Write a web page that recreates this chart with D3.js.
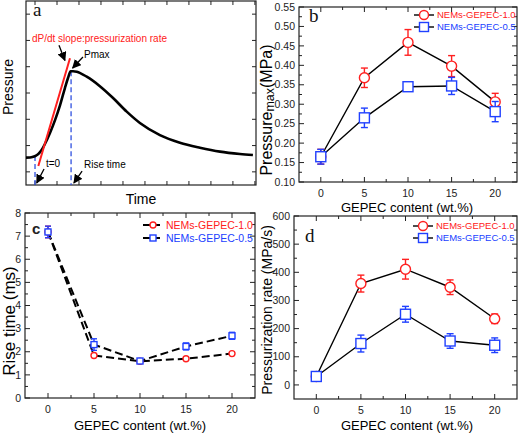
<!DOCTYPE html>
<html><head><meta charset="utf-8">
<script src="https://cdn.jsdelivr.net/npm/d3@7"></script>
<style>body{margin:0;background:#fff}svg{display:block}</style>
</head><body>
<script>
// ---------- data ----------
const gepec = [0, 5, 10, 15, 20];
const xTicks = [0, 5, 10, 15, 20];
const seriesNames = ["NEMs-GEPEC-1.0", "NEMs-GEPEC-0.5"];
// panel b: Pressure max (MPa)
const pmax10 = [0.165, 0.368, 0.459, 0.398, 0.306];
const pmax10Err = [0.019, 0.025, 0.033, 0.027, 0.022];
const pmax05 = [0.165, 0.265, 0.345, 0.347, 0.281];
const pmax05Err = [0.019, 0.025, 0.009, 0.022, 0.026];
const pmaxTicks = [0.10, 0.15, 0.20, 0.25, 0.30, 0.35, 0.40, 0.45, 0.50, 0.55];
// panel c: Rise time (ms)
const rise10 = [7.18, 1.84, 1.59, 1.70, 1.92];
const rise10Err = [0.25, 0.08, 0.08, 0.06, 0.06];
const rise05 = [7.18, 2.31, 1.60, 2.23, 2.69];
const rise05Err = [0.25, 0.25, 0.10, 0.15, 0.15];
const riseTicks = [0, 1, 2, 3, 4, 5, 6, 7, 8];
// panel d: Pressurization rate (MPa/s)
const rate10 = [30, 360, 411, 347, 235];
const rate10Err = [7, 30, 35, 26, 17];
const rate05 = [30, 147, 251, 156, 141];
const rate05Err = [7, 30, 28, 26, 26];
const rateTicks = [0, 100, 200, 300, 400, 500, 600];
// panel a: schematic pressure-time curve (arbitrary units)
const curveT = [-0.41, -0.23, -0.08, 0.045, 0.15, 0.30, 0.45, 0.68, 0.91, 1.14, 1.36, 1.50, 1.62, 1.73, 1.90, 2.35, 2.95, 3.55, 4.17, 4.77, 5.68, 6.59, 7.50, 8.41, 9.32, 9.91];
const curveP = [0.54, 0.546, 0.576, 0.62, 0.68, 0.83, 1.06, 1.48, 1.97, 2.54, 3.19, 3.57, 3.83, 3.83, 3.81, 3.62, 3.26, 2.81, 2.29, 1.86, 1.40, 1.11, 0.92, 0.77, 0.68, 0.64];
const slopeT = [0.15, 1.59];
const slopeP = [0.22, 4.32];
const t0 = 0, tRise = 1.64, pStart = 0.6, pPeak = 3.83;

const RED = "#ff2020", BLUE = "#2040ff";
const SANS = "'Liberation Sans', Arial, sans-serif";
const SERIF = "'Liberation Serif', 'Times New Roman', serif";

const svg = d3.select("body").append("svg").attr("width", 520).attr("height", 434)
  .style("font-family", SANS);
const defs = svg.append("defs");
defs.append("marker").attr("id", "arr").attr("viewBox", "0 0 10 10").attr("refX", 9).attr("refY", 5)
  .attr("markerWidth", 7).attr("markerHeight", 7).attr("orient", "auto-start-reverse")
  .append("path").attr("d", "M0,0L10,5L0,10z").attr("fill", "#000");

function frame(x, y, opt) {
  const g = svg.append("g");
  const [x0, x1] = x.range(), [y0, y1] = y.range();
  const L = opt.major || 5, m = opt.minor || 3;
  const mk = (vals, len, side) => {
    vals.forEach(v => {
      if (side === "b") g.append("line").attr("x1", x(v)).attr("x2", x(v)).attr("y1", y0).attr("y2", y0 - len);
      if (side === "t") g.append("line").attr("x1", x(v)).attr("x2", x(v)).attr("y1", y1).attr("y2", y1 + len);
      if (side === "l") g.append("line").attr("y1", y(v)).attr("y2", y(v)).attr("x1", x0).attr("x2", x0 + len);
      if (side === "r") g.append("line").attr("y1", y(v)).attr("y2", y(v)).attr("x1", x1).attr("x2", x1 - len);
    });
  };
  mk(opt.xMajor, L, "b"); mk(opt.xMinor, m, "b"); mk(opt.xMajor, L, "t"); mk(opt.xMinor, m, "t");
  mk(opt.yMajor, L, "l"); mk(opt.yMinor, m, "l"); mk(opt.yMajor, L, "r"); mk(opt.yMinor, m, "r");
  g.selectAll("line").attr("stroke", "#222").attr("stroke-width", 1);
  g.append("rect").attr("x", x0).attr("y", y1).attr("width", x1 - x0).attr("height", y0 - y1)
    .attr("fill", "none").attr("stroke", "#222").attr("stroke-width", 1.2);
  if (opt.xLabels) {
    g.selectAll(".xl").data(opt.xMajor).join("text").attr("x", d => x(d)).attr("y", y0 + 15)
      .attr("text-anchor", "middle").attr("font-size", 10.5).attr("fill", "#222").text(d => d);
  }
  if (opt.yLabels) {
    g.selectAll(".yl").data(opt.yMajor).join("text").attr("x", x0 - 4).attr("y", d => y(d) + 3.7)
      .attr("text-anchor", "end").attr("font-size", 10.5).attr("fill", "#222").text(d => opt.yFmt ? opt.yFmt(d) : d);
  }
  return g;
}

function series(x, y, xs, ys, dashed) {
  const line = d3.line().x((d, i) => x(xs[i])).y(d => y(d));
  svg.append("path").attr("d", line(ys)).attr("fill", "none").attr("stroke", "#000")
    .attr("stroke-width", dashed ? 2 : 1.4).attr("stroke-dasharray", dashed ? "8,4" : null);
}
function points(x, y, xs, ys, errs, color, shape, size) {
  const g = svg.append("g");
  const cap = Math.max(3, size * 0.7);
  ys.forEach((v, i) => {
    const cx = x(xs[i]);
    g.append("line").attr("x1", cx).attr("x2", cx).attr("y1", y(v - errs[i])).attr("y2", y(v + errs[i])).attr("stroke", color).attr("stroke-width", 1.4);
    [v - errs[i], v + errs[i]].forEach(e => g.append("line").attr("x1", cx - cap).attr("x2", cx + cap).attr("y1", y(e)).attr("y2", y(e)).attr("stroke", color).attr("stroke-width", 1.4));
    if (shape === "circle") g.append("circle").attr("cx", cx).attr("cy", y(v)).attr("r", size).attr("fill", "#fff").attr("stroke", color).attr("stroke-width", 1.4);
    else g.append("rect").attr("x", cx - size).attr("y", y(v) - size).attr("width", 2 * size).attr("height", 2 * size).attr("fill", "#fff").attr("stroke", color).attr("stroke-width", 1.4);
  });
}
function legend(x0, yRows, size, fs, dashed) {
  const g = svg.append("g");
  seriesNames.forEach((n, i) => {
    const yy = yRows[i], col = i === 0 ? RED : BLUE;
    g.append("line").attr("x1", x0).attr("x2", x0 + 20).attr("y1", yy).attr("y2", yy).attr("stroke", "#000")
      .attr("stroke-width", dashed ? 2 : 1.4).attr("stroke-dasharray", dashed ? "7,3" : null);
    if (i === 0) g.append("circle").attr("cx", x0 + 10).attr("cy", yy).attr("r", size).attr("fill", "#fff").attr("stroke", col).attr("stroke-width", 1.4);
    else g.append("rect").attr("x", x0 + 10 - size).attr("y", yy - size).attr("width", 2 * size).attr("height", 2 * size).attr("fill", "#fff").attr("stroke", col).attr("stroke-width", 1.4);
    g.append("text").attr("x", x0 + 23).attr("y", yy + fs * 0.36).attr("font-size", fs).attr("fill", col).text(n);
  });
}
const half = arr => arr.slice(0, -1).map((v, i) => (v + arr[i + 1]) / 2);
const serifLabel = (txt, x, y) => svg.append("text").attr("x", x).attr("y", y).style("font-family", SERIF).attr("font-size", 19).attr("fill", "#111").text(txt);

// ---------- panel a ----------
{
  const x = d3.scaleLinear().domain([-0.41, 10.05]).range([26, 256]);
  const y = d3.scaleLinear().domain([-0.5, 6.5]).range([185, 1]);
  const xm = d3.range(0, 11), ym = d3.range(0, 7);
  frame(x, y, { xMajor: xm, xMinor: [], yMajor: ym, yMinor: [], major: 4 });
  const g = svg.append("g");
  g.append("line").attr("x1", x(t0)).attr("x2", x(t0)).attr("y1", y(pStart)).attr("y2", y(-0.5)).attr("stroke", "#3050e0").attr("stroke-width", 1.3).attr("stroke-dasharray", "5,3");
  g.append("line").attr("x1", x(tRise)).attr("x2", x(tRise)).attr("y1", y(pPeak)).attr("y2", y(-0.5)).attr("stroke", "#3050e0").attr("stroke-width", 1.3).attr("stroke-dasharray", "5,3");
  g.append("path").attr("d", d3.line().curve(d3.curveMonotoneX).x((d, i) => x(curveT[i])).y(d => y(d))(curveP))
    .attr("fill", "none").attr("stroke", "#000").attr("stroke-width", 2.6);
  g.append("line").attr("x1", x(slopeT[0])).attr("x2", x(slopeT[1])).attr("y1", y(slopeP[0])).attr("y2", y(slopeP[1])).attr("stroke", RED).attr("stroke-width", 2);
  const arrows = [[1.09, 4.82, 1.36, 4.24], [2.18, 4.37, 1.71, 3.95], [0.41, 0.11, 0.08, -0.42], [2.14, 0.03, 1.77, -0.42]];
  arrows.forEach(a => g.append("line").attr("x1", x(a[0])).attr("y1", y(a[1])).attr("x2", x(a[2])).attr("y2", y(a[3]))
    .attr("stroke", "#000").attr("stroke-width", 1.3).attr("marker-end", "url(#arr)"));
  const notes = [["dP/dt slope:pressurization rate", -0.14, 4.94, RED], ["Pmax", 2.23, 4.33, "#000"], ["t=0", 0.5, 0.18, "#000"], ["Rise time", 2.23, 0.15, "#000"]];
  notes.forEach(n => g.append("text").attr("x", x(n[1])).attr("y", y(n[2])).attr("font-size", 10).attr("fill", n[3]).text(n[0]));
  serifLabel("a", 33, 16);
  g.append("text").attr("transform", "translate(13,87) rotate(-90)").attr("text-anchor", "middle").attr("font-size", 14).text("Pressure");
  g.append("text").attr("x", 141).attr("y", 204).attr("text-anchor", "middle").attr("font-size", 14).text("Time");
}

// ---------- panel b ----------
{
  const x = d3.scaleLinear().domain([-2.5, 22.5]).range([299, 517]);
  const y = d3.scaleLinear().domain([0.10, 0.55]).range([182, 7]);
  frame(x, y, { xMajor: xTicks, xMinor: half(xTicks), yMajor: pmaxTicks, yMinor: half(pmaxTicks), xLabels: true, yLabels: true, yFmt: d3.format(".2f") });
  series(x, y, gepec, pmax10);
  series(x, y, gepec, pmax05);
  points(x, y, gepec, pmax10, pmax10Err, RED, "circle", 5);
  points(x, y, gepec, pmax05, pmax05Err, BLUE, "rect", 5);
  legend(414, [15, 27], 4.5, 9.5, false);
  serifLabel("b", 309, 22);
  const t = svg.append("text").attr("transform", "translate(272,110) rotate(-90)").attr("text-anchor", "middle").attr("font-size", 16);
  t.append("tspan").text("Pressure");
  t.append("tspan").attr("font-size", 12.5).attr("dy", 2).text("max");
  t.append("tspan").attr("dy", -2).text("(MPa)");
  svg.append("text").attr("x", 407).attr("y", 212).attr("text-anchor", "middle").attr("font-size", 13).text("GEPEC content (wt.%)");
}

// ---------- panel c ----------
{
  const x = d3.scaleLinear().domain([-2.5, 22.5]).range([25, 255]);
  const y = d3.scaleLinear().domain([0, 8]).range([398, 213]);
  frame(x, y, { xMajor: xTicks, xMinor: half(xTicks), yMajor: riseTicks, yMinor: half(riseTicks), xLabels: true, yLabels: true });
  series(x, y, gepec, rise10, true);
  series(x, y, gepec, rise05, true);
  points(x, y, gepec, rise10, rise10Err, RED, "circle", 3);
  points(x, y, gepec, rise05, rise05Err, BLUE, "rect", 3);
  legend(143, [225, 238], 3, 10.5, true);
  svg.append("text").attr("x", 32).attr("y", 234).attr("font-size", 15).attr("font-weight", "bold").attr("fill", "#222").text("c");
  svg.append("text").attr("transform", "translate(15,321) rotate(-90)").attr("text-anchor", "middle").attr("font-size", 17).text("Rise time (ms)");
  svg.append("text").attr("x", 140).attr("y", 430).attr("text-anchor", "middle").attr("font-size", 13).text("GEPEC content (wt.%)");
}

// ---------- panel d ----------
{
  const x = d3.scaleLinear().domain([-2.5, 22.5]).range([294, 517]);
  const y = d3.scaleLinear().domain([-50, 600]).range([399, 216]);
  frame(x, y, { xMajor: xTicks, xMinor: half(xTicks), yMajor: rateTicks, yMinor: half(rateTicks), xLabels: true, yLabels: true });
  series(x, y, gepec, rate10);
  series(x, y, gepec, rate05);
  points(x, y, gepec, rate10, rate10Err, RED, "circle", 5);
  points(x, y, gepec, rate05, rate05Err, BLUE, "rect", 5);
  legend(413, [226, 238], 4.5, 9.5, false);
  serifLabel("d", 305, 242);
  svg.append("text").attr("transform", "translate(272,310) rotate(-90)").attr("text-anchor", "middle").attr("font-size", 14).text("Pressurization rate (MPa/s)");
  svg.append("text").attr("x", 407).attr("y", 430).attr("text-anchor", "middle").attr("font-size", 13).text("GEPEC content (wt.%)");
}
</script>
</body></html>
